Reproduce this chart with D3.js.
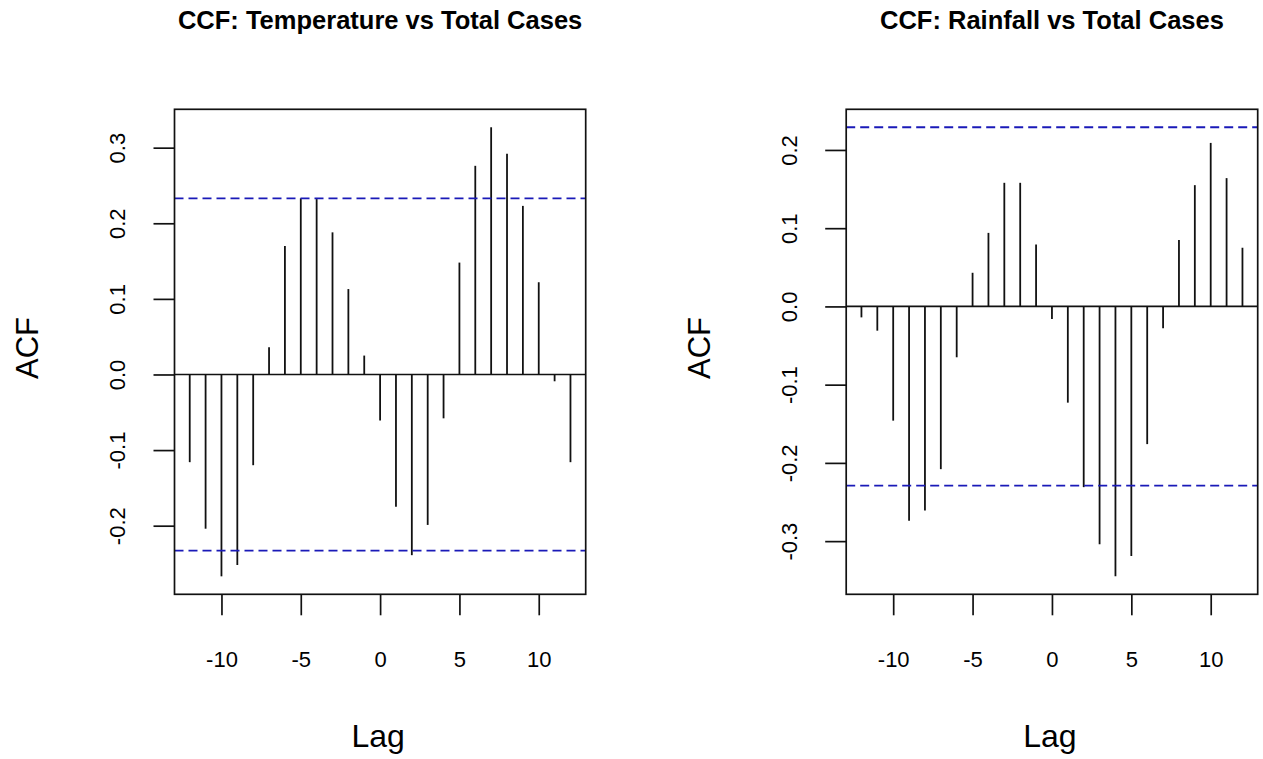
<!DOCTYPE html>
<html>
<head>
<meta charset="utf-8">
<script src="https://cdn.jsdelivr.net/npm/d3@7"></script>
<style>
  body { margin: 0; background: #fff; }
  text { font-family: "Liberation Sans", Arial, sans-serif; fill: #000; }
</style>
</head>
<body>
<svg id="chart" width="1263" height="759"></svg>
<script>
// lags shared by both panels
const lags = d3.range(-12, 13);

// CCF values
const tempValues = [-0.116, -0.204, -0.267, -0.252, -0.120, 0.036, 0.170, 0.233, 0.232,
                    0.188, 0.113, 0.025, -0.061, -0.175, -0.239, -0.199, -0.058, 0.148,
                    0.276, 0.327, 0.292, 0.223, 0.122, -0.009, -0.116];
const rainValues = [-0.014, -0.031, -0.146, -0.274, -0.261, -0.208, -0.065, 0.043, 0.094,
                    0.158, 0.158, 0.079, -0.016, -0.123, -0.231, -0.304, -0.345, -0.319,
                    -0.176, -0.028, 0.085, 0.155, 0.209, 0.164, 0.075];

// confidence limits (blue dashed)
const tempClim = 0.233;
const rainClim = 0.229;

const xTicks = [-10, -5, 0, 5, 10];
const tempYTicks = [-0.2, -0.1, 0.0, 0.1, 0.2, 0.3];
const rainYTicks = [-0.3, -0.2, -0.1, 0.0, 0.1, 0.2];

const svg = d3.select("#chart");

// R-like axis range: extend data range by 4% on each side
function padded(ext){
    let d = (ext[1] - ext[0]) * 0.04;
    return [ext[0] - d, ext[1] + d];
}

function drawPanel(opts){
    const box = opts.box;
    const g = svg.append("g");

    const x = d3.scaleLinear()
        .domain(padded(d3.extent(lags)))
        .range([box.left, box.right]);

    const y = d3.scaleLinear()
        .domain(padded(d3.extent(opts.values.concat([-opts.clim, opts.clim]))))
        .range([box.bottom, box.top]);

    // x axis
    const xAxis = g.append("g")
        .attr("transform", "translate(0," + box.bottom + ")")
        .call(d3.axisBottom(x).tickValues(xTicks).tickSize(21).tickFormat(d => String(d)));
    xAxis.select(".domain").remove();
    xAxis.selectAll("line").attr("stroke", "#111").attr("stroke-width", 1.7);
    xAxis.selectAll("text")
        .attr("y", 72.7)
        .attr("dy", null)
        .attr("fill", "#111")
        .style("font-size", "22px");

    // y axis, labels turned like R's las=0
    const yAxis = g.append("g")
        .attr("transform", "translate(" + box.left + ",0)")
        .call(d3.axisLeft(y).tickValues(opts.yTicks).tickSize(21).tickFormat(d => d.toFixed(1)));
    yAxis.select(".domain").remove();
    yAxis.selectAll("line").attr("stroke", "#111").attr("stroke-width", 1.7);
    yAxis.selectAll("text")
        .attr("x", null)
        .attr("dy", null)
        .attr("text-anchor", "middle")
        .attr("transform", "translate(-49.5,0) rotate(-90)")
        .attr("fill", "#111")
        .style("font-size", "22px");

    // zero line
    g.append("line")
        .attr("x1", box.left).attr("x2", box.right)
        .attr("y1", y(0)).attr("y2", y(0))
        .attr("stroke", "#111").attr("stroke-width", 1.7);

    // spikes
    g.selectAll(".spike")
        .data(lags.map((l, i) => ({lag: l, value: opts.values[i]})))
        .enter().append("line")
        .attr("class", "spike")
        .attr("x1", d => x(d.lag)).attr("x2", d => x(d.lag))
        .attr("y1", y(0)).attr("y2", d => y(d.value))
        .attr("stroke", "#111").attr("stroke-width", 1.8);

    // confidence bands
    g.selectAll(".clim")
        .data([opts.clim, -opts.clim])
        .enter().append("line")
        .attr("class", "clim")
        .attr("x1", box.left).attr("x2", box.right)
        .attr("y1", d => y(d)).attr("y2", d => y(d))
        .attr("stroke", "#1a1ab8").attr("stroke-width", 1.8)
        .attr("stroke-dasharray", "9,5");

    // frame
    g.append("rect")
        .attr("x", box.left).attr("y", box.top)
        .attr("width", box.right - box.left).attr("height", box.bottom - box.top)
        .attr("fill", "none").attr("stroke", "#111").attr("stroke-width", 1.7);

    const cx = (box.left + box.right) / 2;

    g.append("text")
        .attr("x", cx).attr("y", 29)
        .attr("text-anchor", "middle")
        .style("font-size", "25.5px").style("font-weight", "bold")
        .text(opts.title);

    g.append("text")
        .attr("x", cx - 2).attr("y", 747)
        .attr("text-anchor", "middle")
        .style("font-size", "32px")
        .text("Lag");

    g.append("text")
        .attr("transform", "translate(" + (box.left - 136.5) + ",348) rotate(-90)")
        .attr("text-anchor", "middle")
        .style("font-size", "31px")
        .text("ACF");
}

drawPanel({
    box: {left: 174.5, right: 585.7, top: 109.3, bottom: 594.3},
    values: tempValues,
    clim: tempClim,
    yTicks: tempYTicks,
    title: "CCF: Temperature vs Total Cases"
});

drawPanel({
    box: {left: 846.2, right: 1257.7, top: 109.3, bottom: 594.3},
    values: rainValues,
    clim: rainClim,
    yTicks: rainYTicks,
    title: "CCF: Rainfall vs Total Cases"
});
</script>
</body>
</html>
